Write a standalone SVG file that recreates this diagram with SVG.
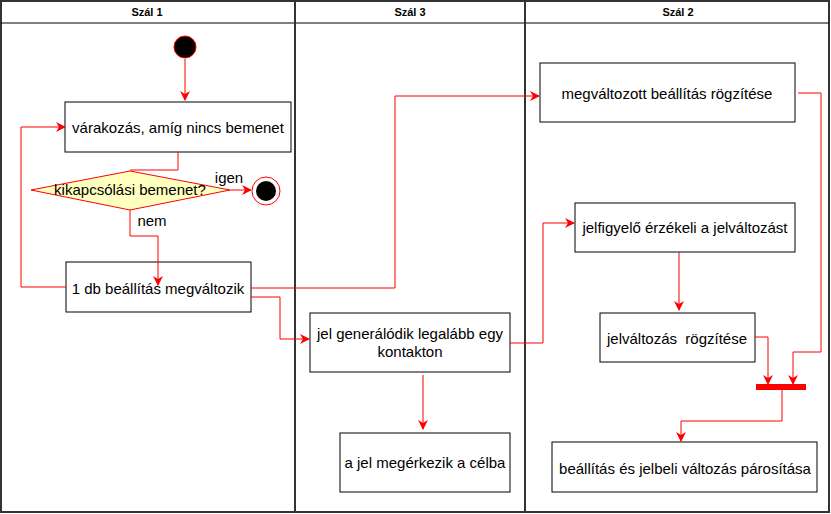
<svg xmlns="http://www.w3.org/2000/svg" width="831" height="514" viewBox="0 0 831 514">
<style>
.box{fill:#fff;stroke:#000;stroke-width:1}
.t{font-family:"Liberation Sans",Arial,sans-serif;font-size:15px;fill:#000;text-anchor:middle}
.h{font-family:"Liberation Sans",Arial,sans-serif;font-size:11px;font-weight:bold;fill:#000;text-anchor:middle}
.c{fill:none;stroke:#f00;stroke-width:1}
.lane{fill:none;stroke:#333;stroke-width:2}
</style>
<defs>
<marker id="a" viewBox="0 0 10 10" refX="9" refY="5" markerWidth="10" markerHeight="10" markerUnits="userSpaceOnUse" orient="auto">
<path d="M0,0 L10,5 L0,10 L3,5 Z" fill="#f00"/>
</marker>
</defs>
<rect width="831" height="514" fill="#fff"/>
<g id="lanes">
<rect x="1" y="1" width="828" height="511" class="lane"/>
<line x1="1" y1="23" x2="829" y2="23" stroke="#000" stroke-width="1"/>
<line x1="295" y1="1" x2="295" y2="512" class="lane"/>
<line x1="525" y1="1" x2="525" y2="512" class="lane"/>
<text class="h" x="147" y="16">Szál 1</text>
<text class="h" x="410" y="16">Szál 3</text>
<text class="h" x="678" y="16">Szál 2</text>
</g>
<g id="start"><circle cx="185" cy="47" r="11" fill="#000" stroke="#f00" stroke-width="1"/></g>
<g id="wait"><rect class="box" x="65" y="102" width="226" height="50"/><text class="t" x="178" y="133">várakozás, amíg nincs bemenet</text></g>
<g id="decision"><polygon points="31,190 130,171 230,190 130,210" fill="#ffffc0" stroke="#f00" stroke-width="1"/><text class="t" x="130" y="195">kikapcsólási bemenet?</text></g>
<g id="end"><circle cx="266" cy="191" r="14" fill="#fff" stroke="#f00" stroke-width="1"/><circle cx="266" cy="191" r="10" fill="#000"/></g>
<g id="change"><rect class="box" x="66" y="262" width="185" height="50"/><text class="t" x="158" y="294">1 db beállítás megváltozik</text></g>
<g id="gen"><rect class="box" x="310" y="313" width="200" height="59"/><text class="t" x="410" y="339">jel generálódik legalább egy</text><text class="t" x="410" y="357">kontakton</text></g>
<g id="arrive"><rect class="box" x="340" y="433" width="170" height="59"/><text class="t" x="425" y="468">a jel megérkezik a célba</text></g>
<g id="record"><rect class="box" x="540" y="63" width="255" height="59"/><text class="t" x="667" y="99">megváltozott beállítás rögzítése</text></g>
<g id="detect"><rect class="box" x="575" y="203" width="220" height="49"/><text class="t" x="685" y="233">jelfigyelő érzékeli a jelváltozást</text></g>
<g id="sigrec"><rect class="box" x="600" y="313" width="155" height="49"/><text class="t" x="677" y="344" xml:space="preserve">jelváltozás  rögzítése</text></g>
<g id="join"><rect x="756" y="384" width="50" height="6" fill="#f00"/></g>
<g id="pair"><rect class="box" x="552" y="442" width="265" height="50"/><text class="t" x="685" y="474">beállítás és jelbeli változás párosítása</text></g>
<g id="connectors">
<path class="c" d="M185,59 V100" marker-end="url(#a)"/>
<path class="c" d="M178,152 V170 H130"/>
<path class="c" d="M230,190 H251" marker-end="url(#a)"/>
<path class="c" d="M130,210 V236 H158 V285" marker-end="url(#a)"/>
<path class="c" d="M66,287 H21 V127 H65" marker-end="url(#a)"/>
<path class="c" d="M251,288 H395 V96 H539" marker-end="url(#a)"/>
<path class="c" d="M251,297 H280 V339 H309" marker-end="url(#a)"/>
<path class="c" d="M423,375 V429" marker-end="url(#a)"/>
<path class="c" d="M510,343 H543 V223 H574" marker-end="url(#a)"/>
<path class="c" d="M679,252 V310" marker-end="url(#a)"/>
<path class="c" d="M755,337 H768 V384" marker-end="url(#a)"/>
<path class="c" d="M798,93 H821 V352 H793 V384" marker-end="url(#a)"/>
<path class="c" d="M782,390 V421 H681 V441" marker-end="url(#a)"/>
<text class="t" x="229" y="183">igen</text>
<text class="t" x="152" y="226">nem</text>
</g>
</svg>
